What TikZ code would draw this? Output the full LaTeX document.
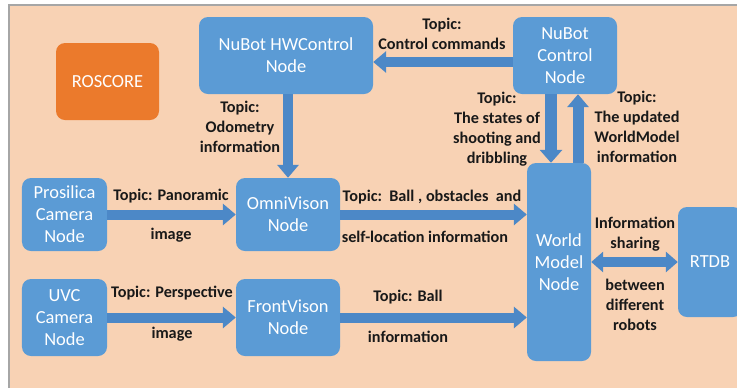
\documentclass[tikz,border=0pt]{standalone}
\usepackage{fontspec}
\setmainfont{Carlito}
\usetikzlibrary{arrows.meta}
\definecolor{peach}{HTML}{F8D2B4}
\definecolor{boxblue}{HTML}{5B9BD5}
\definecolor{arrblue}{HTML}{4C88C7}
\definecolor{rosorange}{HTML}{EB7A2C}
\tikzset{
  nodebox/.style={fill=boxblue, rounded corners=9bp, text=white, align=center,
    font=\fontsize{18.5}{22}\selectfont, inner sep=0pt},
  lbl/.style={align=center, font=\bfseries\fontsize{16.3}{20}\selectfont, inner sep=0pt, text=black!90},
  fat/.style={draw=arrblue, line width=10bp, -{Triangle[width=21bp,length=13bp]}},
  fatboth/.style={draw=arrblue, line width=10bp, {Triangle[width=20bp,length=12bp]}-{Triangle[width=20bp,length=12bp]}},
}
\begin{document}
\begin{tikzpicture}[x=1bp,y=-1bp]
\useasboundingbox (0,0) rectangle (737,388);
\fill[white] (0,0) rectangle (737,388);
\fill[peach] (9,5) rectangle (737,388);
\draw[gray!70, line width=1.2bp] (9,388) -- (9,5) -- (737,5);

\node[nodebox, fill=rosorange, minimum width=103bp, minimum height=77bp] (ros) at (107.5,81.5) {ROSCORE};
\node[nodebox, minimum width=174bp, minimum height=77bp] (hw) at (286,55.5) {NuBot HWControl\\Node};
\node[nodebox, minimum width=104bp, minimum height=77bp] (ctrl) at (565,55.5) {NuBot\\Control\\Node};
\node[nodebox, minimum width=85bp, minimum height=73bp] (pros) at (64.5,214.5) {Prosilica\\Camera\\Node};
\node[nodebox, minimum width=104bp, minimum height=73bp] (omni) at (288,214.5) {OmniVison\\Node};
\node[nodebox, minimum width=85bp, minimum height=77bp] (uvc) at (64.5,317.5) {UVC\\Camera\\Node};
\node[nodebox, minimum width=104bp, minimum height=77bp] (front) at (288,317.5) {FrontVison\\Node};
\node[nodebox, minimum width=64bp, minimum height=198bp] (world) at (559,262) {World\\Model\\Node};
\node[nodebox, minimum width=64bp, minimum height=110bp] (rtdb) at (710,262) {RTDB};

% arrows
\draw[fat] ([yshift=-6.5bp]ctrl.west) -- ([yshift=-6.5bp]hw.east);
\draw[fat] (omni.north |- hw.south) -- (omni.north);
\draw[fat] (pros.east) -- (omni.west);
\draw[fat] (uvc.east) -- (front.west);
\draw[fat] (omni.east) -- (omni.east -| world.west);
\draw[fat] (front.east) -- (front.east -| world.west);
\draw[fat, line width=12bp, -{Triangle[width=22bp,length=13bp]}] ([xshift=-14bp]ctrl.south) -- ([xshift=-14bp]ctrl.south |- world.north);
\draw[fat, line width=11bp, -{Triangle[width=21bp,length=13bp]}] ([xshift=13bp]ctrl.south |- world.north) -- ([xshift=13bp]ctrl.south);
\draw[fatboth] (world.east) -- (rtdb.west);

% labels
\node[lbl] (l1) at (442,34) {Topic:\\Control commands};
\node[lbl] (l2) at (240,127) {Topic:\\Odometry\\information};
\node[lbl] (l3) at (171,196) {Topic: Panoramic};
\node[lbl] (l4) at (171,235) {image};
\node[lbl] (l5) at (172,293) {Topic: Perspective};
\node[lbl] (l6) at (172,334) {image};
\node[lbl] (l7) at (432,197) {Topic:\ \ Ball , obstacles\ \ and};
\node[lbl] (l8) at (425,237) {self-location information};
\node[lbl] (l9) at (408,297) {Topic: Ball};
\node[lbl] (l10) at (408,337) {information};
\node[lbl] (l11) at (497,129) {Topic:\\The states of\\shooting and\\dribbling};
\node[lbl] (l12) at (637,127) {Topic:\\The updated\\WorldModel\\information};
\node[lbl] (l13) at (635,234.5) {Information\\sharing};
\node[lbl] (l14) at (635,305) {between\\different\\robots};
\end{tikzpicture}
\end{document}
